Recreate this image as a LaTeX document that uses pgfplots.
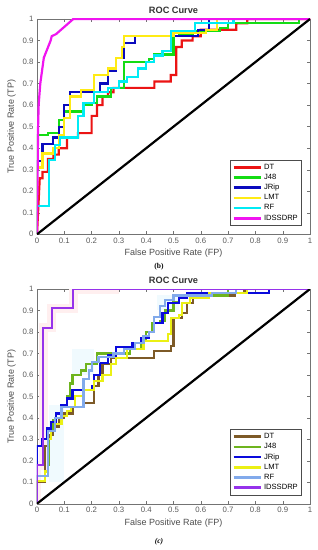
\documentclass[border=0pt]{standalone}
\usepackage{fontspec}
\setmainfont{Liberation Sans}
\newfontfamily\capfont{Liberation Serif}
\usepackage{pgfplots}
\pgfplotsset{compat=1.18}
\definecolor{cDT}{RGB}{235,20,20}
\definecolor{cJ}{RGB}{20,220,20}
\definecolor{cJR}{RGB}{10,10,190}
\definecolor{cLMT}{RGB}{255,235,20}
\definecolor{cRF}{RGB}{0,235,245}
\definecolor{cID}{RGB}{240,20,240}
\definecolor{dDT}{RGB}{125,90,40}
\definecolor{dJ}{RGB}{110,180,30}
\definecolor{dJR}{RGB}{10,10,220}
\definecolor{dLMT}{RGB}{235,240,20}
\definecolor{dRF}{RGB}{130,170,235}
\definecolor{dID}{RGB}{150,50,235}
\pgfplotsset{
  rocaxis/.style={
    scale only axis, width=273pt,
    xmin=0, xmax=1, ymin=0, ymax=1,
    xtick={0,0.1,0.2,0.3,0.4,0.5,0.6,0.7,0.8,0.9,1},
    xticklabels={0,0.1,0.2,0.3,0.4,0.5,0.6,0.7,0.8,0.9,1},
    ytick={0,0.1,0.2,0.3,0.4,0.5,0.6,0.7,0.8,0.9,1},
    yticklabels={0,0.1,0.2,0.3,0.4,0.5,0.6,0.7,0.8,0.9,1},
    tick align=inside, major tick length=3pt,
    axis line style={black!55}, every tick/.style={black!55},
    ticklabel style={font=\fontsize{7.8}{9}\selectfont, text=black!65},
    label style={font=\fontsize{9}{10}\selectfont, text=black!70},
    xlabel style={yshift=1pt},
    title style={font=\fontsize{9.2}{10}\selectfont\bfseries, text=black!80, yshift=-4.5pt},
    title={ROC Curve},
    xlabel={False Positive Rate (FP)},
    ylabel={True Positive Rate (TP)},
    legend style={at={(0.97,0.04)}, anchor=south east, font=\fontsize{7.6}{8.5}\selectfont,
      draw=black!70, inner sep=1.8pt, row sep=-0.6pt, cells={anchor=west}},
    legend image code/.code={\draw[#1, line width=2.6pt] (0pt,0pt) -- (27pt,0pt);},
    every axis plot/.append style={line width=2.2pt, line join=miter},
  }
}
\begin{document}
\begin{tikzpicture}
\useasboundingbox (0,0) rectangle (318pt,550pt);
% ---------------- top (b) ----------------
\begin{axis}[rocaxis, at={(37pt,315.7pt)}, anchor=south west, height=215.3pt]
\addplot[cDT] coordinates {(0,0)(0.01,0.26)(0.02,0.26)(0.02,0.29)(0.04,0.29)(0.04,0.35)(0.06,0.35)(0.06,0.37)(0.08,0.37)(0.08,0.40)(0.11,0.40)(0.11,0.45)(0.15,0.45)(0.15,0.47)(0.2,0.47)(0.2,0.55)(0.22,0.55)(0.22,0.6)(0.24,0.6)(0.24,0.64)(0.26,0.64)(0.26,0.66)(0.28,0.66)(0.28,0.68)(0.43,0.68)(0.43,0.71)(0.49,0.71)(0.49,0.74)(0.51,0.74)(0.51,0.87)(0.53,0.87)(0.53,0.9)(0.57,0.9)(0.57,0.92)(0.6,0.92)(0.6,0.95)(0.73,0.95)(0.73,0.98)(0.77,0.98)(0.77,1)(1,1)};
\addlegendentry{DT}
\addplot[cJ] coordinates {(0,0)(0,0.46)(0.04,0.46)(0.04,0.47)(0.08,0.47)(0.08,0.53)(0.1,0.53)(0.1,0.57)(0.17,0.57)(0.17,0.6)(0.2,0.6)(0.2,0.61)(0.22,0.61)(0.22,0.64)(0.27,0.64)(0.27,0.68)(0.32,0.68)(0.32,0.8)(0.41,0.8)(0.41,0.815)(0.43,0.815)(0.43,0.835)(0.5,0.835)(0.5,0.92)(0.52,0.92)(0.52,0.93)(0.57,0.93)(0.57,0.946)(0.67,0.946)(0.67,0.96)(0.7,0.96)(0.7,0.98)(0.96,0.98)(0.96,1)(1,1)};
\addlegendentry{J48}
\addplot[cJR] coordinates {(0,0)(0,0.34)(0.02,0.34)(0.02,0.42)(0.06,0.42)(0.06,0.45)(0.08,0.45)(0.08,0.5)(0.1,0.5)(0.1,0.6)(0.12,0.6)(0.12,0.66)(0.23,0.66)(0.23,0.7)(0.26,0.7)(0.26,0.76)(0.29,0.76)(0.29,0.82)(0.32,0.82)(0.32,0.89)(0.36,0.89)(0.36,0.92)(0.59,0.92)(0.59,0.95)(0.63,0.95)(0.63,1)(1,1)};
\addlegendentry{JRip}
\addplot[cLMT] coordinates {(0,0)(0,0.31)(0.02,0.31)(0.02,0.375)(0.06,0.375)(0.06,0.4)(0.08,0.4)(0.08,0.46)(0.1,0.46)(0.1,0.54)(0.12,0.54)(0.12,0.64)(0.16,0.64)(0.16,0.67)(0.21,0.67)(0.21,0.74)(0.26,0.74)(0.26,0.77)(0.29,0.77)(0.29,0.82)(0.31,0.82)(0.31,0.87)(0.32,0.87)(0.32,0.92)(0.5,0.92)(0.5,0.935)(0.62,0.935)(0.62,0.95)(0.66,0.95)(0.66,1)(1,1)};
\addlegendentry{LMT}
\addplot[cRF] coordinates {(0,0)(0,0.13)(0.045,0.13)(0.045,0.345)(0.066,0.345)(0.066,0.415)(0.085,0.415)(0.085,0.45)(0.15,0.45)(0.15,0.55)(0.17,0.55)(0.17,0.61)(0.21,0.61)(0.21,0.66)(0.26,0.66)(0.26,0.68)(0.3,0.68)(0.3,0.71)(0.33,0.71)(0.33,0.73)(0.37,0.73)(0.37,0.77)(0.4,0.77)(0.4,0.8)(0.43,0.8)(0.43,0.83)(0.46,0.83)(0.46,0.85)(0.49,0.85)(0.49,0.946)(0.58,0.946)(0.58,0.98)(0.72,0.98)(0.72,1)(1,1)};
\addlegendentry{RF}
\addplot[cID] coordinates {(0,0)(0.004,0.5)(0.006,0.6)(0.012,0.7)(0.025,0.82)(0.05,0.9)(0.054,0.92)(0.07,0.93)(0.133,1)(1,1)};
\addlegendentry{IDSSDRP}
\addplot[black, forget plot] coordinates {(0,0)(1,1)};
\end{axis}
\node[font=\capfont\bfseries\fontsize{7.5}{8}\selectfont] at (159pt,283pt) {(b)};
% ---------------- bottom (c) ----------------
\begin{axis}[rocaxis, at={(37pt,46.3pt)}, anchor=south west, height=214.7pt]
\addplot[pink!25, line width=9pt, forget plot] coordinates {(0,0)(0,0.18)(0.023,0.18)(0.023,0.82)(0.054,0.82)(0.054,0.91)(0.133,0.91)(0.133,1)(0.3,1)};
\addplot[fill=cyan!6, draw=none, forget plot] coordinates {(0.045,0.1)(0.1,0.1)(0.1,0.46)(0.045,0.46)} -- cycle;
\addplot[fill=cyan!6, draw=none, forget plot] coordinates {(0.13,0.6)(0.21,0.6)(0.21,0.72)(0.13,0.72)} -- cycle;
\addplot[fill=cyan!6, draw=none, forget plot] coordinates {(0.44,0.9)(0.52,0.9)(0.52,0.97)(0.44,0.97)} -- cycle;
\addplot[dDT] coordinates {(0,0)(0,0.1)(0.03,0.1)(0.03,0.27)(0.045,0.27)(0.045,0.32)(0.06,0.32)(0.06,0.36)(0.08,0.36)(0.08,0.4)(0.1,0.4)(0.1,0.42)(0.13,0.42)(0.13,0.45)(0.17,0.45)(0.17,0.47)(0.21,0.47)(0.21,0.55)(0.225,0.55)(0.225,0.6)(0.24,0.6)(0.24,0.65)(0.27,0.65)(0.27,0.68)(0.43,0.68)(0.43,0.71)(0.49,0.71)(0.49,0.735)(0.5,0.735)(0.5,0.865)(0.53,0.865)(0.53,0.89)(0.55,0.89)(0.55,0.935)(0.57,0.935)(0.57,0.96)(0.6,0.96)(0.6,0.97)(0.725,0.97)(0.725,0.98)(0.76,0.98)(0.76,1)(1,1)};
\addlegendentry{DT}
\addplot[dJ] coordinates {(0,0)(0,0.13)(0.04,0.13)(0.04,0.18)(0.045,0.18)(0.045,0.3)(0.05,0.3)(0.05,0.35)(0.06,0.35)(0.06,0.39)(0.07,0.39)(0.07,0.42)(0.09,0.42)(0.09,0.45)(0.11,0.45)(0.11,0.5)(0.12,0.5)(0.12,0.56)(0.13,0.56)(0.13,0.6)(0.16,0.6)(0.16,0.62)(0.18,0.62)(0.18,0.65)(0.22,0.65)(0.22,0.7)(0.34,0.7)(0.34,0.72)(0.38,0.72)(0.38,0.765)(0.4,0.765)(0.4,0.8)(0.42,0.8)(0.42,0.84)(0.45,0.84)(0.45,0.85)(0.47,0.85)(0.47,0.9)(0.5,0.9)(0.5,0.94)(0.52,0.94)(0.52,0.96)(0.55,0.96)(0.55,0.97)(0.7,0.97)(0.7,1)(1,1)};
\addlegendentry{J48}
\addplot[dJR] coordinates {(0,0)(0,0.27)(0.02,0.27)(0.02,0.3)(0.036,0.3)(0.036,0.35)(0.05,0.35)(0.05,0.38)(0.07,0.38)(0.07,0.42)(0.09,0.42)(0.09,0.46)(0.11,0.46)(0.11,0.49)(0.13,0.49)(0.13,0.53)(0.2,0.53)(0.2,0.55)(0.21,0.55)(0.21,0.6)(0.23,0.6)(0.23,0.655)(0.26,0.655)(0.26,0.69)(0.29,0.69)(0.29,0.73)(0.35,0.73)(0.35,0.75)(0.38,0.75)(0.38,0.77)(0.41,0.77)(0.41,0.8)(0.43,0.8)(0.43,0.84)(0.46,0.84)(0.46,0.89)(0.48,0.89)(0.48,0.935)(0.52,0.935)(0.52,0.957)(0.55,0.957)(0.55,0.98)(0.85,0.98)(0.85,1)(1,1)};
\addlegendentry{JRip}
\addplot[dLMT] coordinates {(0,0)(0,0.105)(0.03,0.105)(0.03,0.15)(0.04,0.15)(0.04,0.3)(0.05,0.3)(0.05,0.34)(0.065,0.34)(0.065,0.37)(0.09,0.37)(0.09,0.41)(0.11,0.41)(0.11,0.43)(0.125,0.43)(0.125,0.45)(0.14,0.45)(0.14,0.5)(0.17,0.5)(0.17,0.53)(0.21,0.53)(0.21,0.57)(0.24,0.57)(0.24,0.6)(0.27,0.6)(0.27,0.65)(0.29,0.65)(0.29,0.68)(0.33,0.68)(0.33,0.72)(0.39,0.72)(0.39,0.757)(0.48,0.757)(0.48,0.79)(0.49,0.79)(0.49,0.865)(0.52,0.865)(0.52,0.88)(0.53,0.88)(0.53,0.935)(0.56,0.935)(0.56,0.957)(0.63,0.957)(0.63,0.98)(0.77,0.98)(0.77,1)(1,1)};
\addlegendentry{LMT}
\addplot[dRF] coordinates {(0,0)(0,0.13)(0.04,0.13)(0.04,0.34)(0.065,0.34)(0.065,0.4)(0.09,0.4)(0.09,0.45)(0.17,0.45)(0.17,0.58)(0.19,0.58)(0.19,0.62)(0.2,0.62)(0.2,0.66)(0.225,0.66)(0.225,0.685)(0.28,0.685)(0.28,0.7)(0.32,0.7)(0.32,0.72)(0.36,0.72)(0.36,0.75)(0.39,0.75)(0.39,0.78)(0.41,0.78)(0.41,0.8)(0.43,0.8)(0.43,0.87)(0.45,0.87)(0.45,0.92)(0.47,0.92)(0.47,0.95)(0.5,0.95)(0.5,0.97)(0.64,0.97)(0.64,0.98)(0.73,0.98)(0.73,1)(1,1)};
\addlegendentry{RF}
\addplot[dID] coordinates {(0,0)(0,0.18)(0.023,0.18)(0.023,0.82)(0.054,0.82)(0.054,0.91)(0.133,0.91)(0.133,1)(1,1)};
\addlegendentry{IDSSDRP}
\addplot[black, forget plot] coordinates {(0,0)(1,1)};
\end{axis}
\node[font=\capfont\bfseries\itshape\fontsize{7.5}{8}\selectfont] at (159pt,8pt) {(c)};
\end{tikzpicture}
\end{document}
